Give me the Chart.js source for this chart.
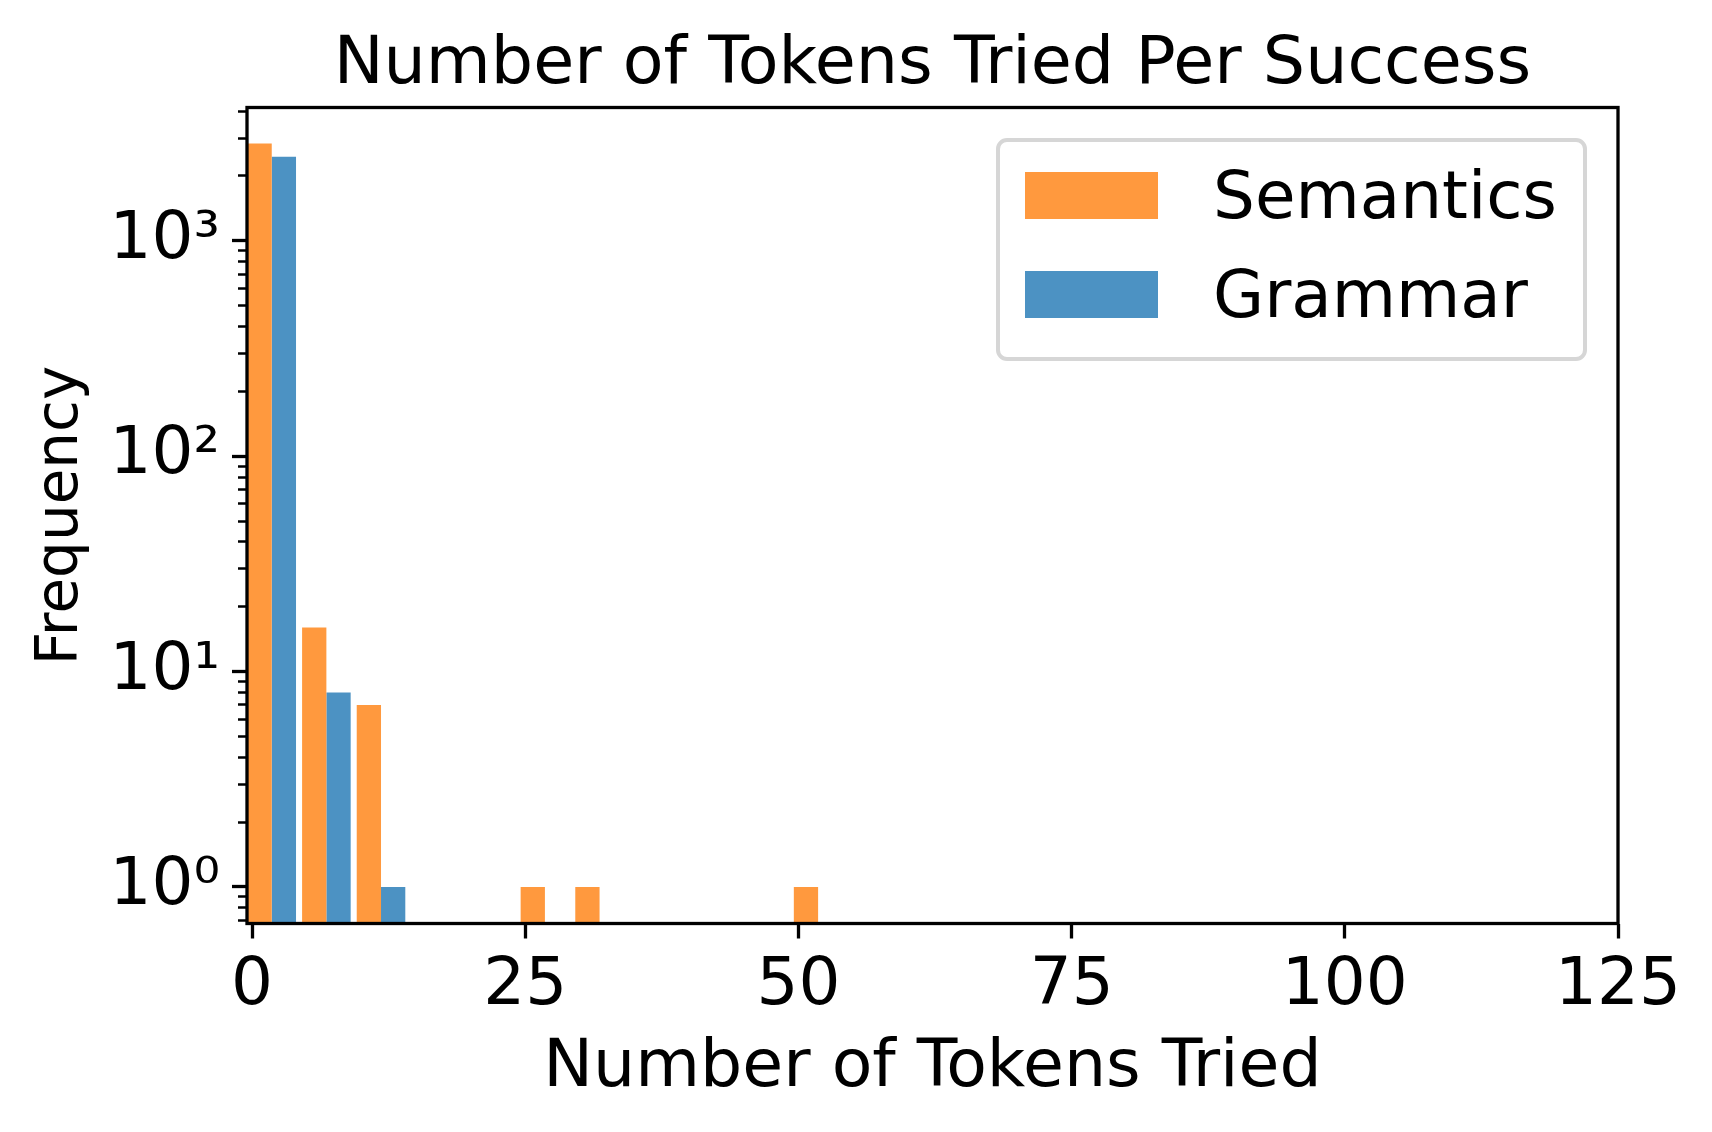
<!DOCTYPE html>
<html>
<head>
<meta charset="utf-8">
<script src="https://cdn.jsdelivr.net/npm/chart.js@4.4.1/dist/chart.umd.min.js"></script>
<style>
body{margin:0;background:#fff;}
#wrap{position:relative;width:1712px;height:1132px;}
#legend{position:absolute;left:996px;top:138px;width:583px;height:215px;border:4px solid #d6d6d6;border-radius:11px;background:rgba(255,255,255,0.8);font-family:"DejaVu Sans";font-size:66px;color:#000;}
#legend .item{position:absolute;left:25px;height:47px;line-height:47px;white-space:nowrap;}
#legend .sw{position:absolute;left:0;top:0;width:133px;height:47px;}
#legend .txt{position:absolute;left:188px;top:0;}
</style>
</head>
<body>
<div id="wrap">
<canvas id="histChart" width="1712" height="1132"></canvas>
<div id="legend"></div>
</div>
<script>
const binCenters=[1.8,6.8,11.8,16.8,21.8,26.8,31.8,36.8,41.8,46.8,51.8];
const semantics=[2830,16,7,null,null,1,1,null,null,null,1];
const grammar=[2460,8,1,null,null,null,null,null,null,null,null];
const xTicks=[0,25,50,75,100,125];
const yMajorTicks=[1,10,100,1000];
const seriesNames=["Semantics","Grammar"];
const seriesColors=["#ff993e","#4c92c3"];

const yMin=0.676;
const yMax=4160;

const sup={"0":"\u2070","1":"\u00b9","2":"\u00b2","3":"\u00b3","-":"\u207b"};

Chart.defaults.font.family="DejaVu Sans";
Chart.defaults.color="#000";

function minorTicks(){
let out=[];
for(let e=-1;e<=3;e++){
for(let m=2;m<=9;m++){
let v=m*Math.pow(10,e);
if(v>=yMin&&v<=yMax) out.push({value:v});
}
}
return out;
}

// frame round the plot + title centred over the plot area
const framePlugin={
id:"frame",
afterLayout(chart){
const t=chart.titleBlock;
if(t){t.left=chart.chartArea.left;t.right=chart.chartArea.right;t.width=t.right-t.left;}
},
afterDraw(chart){
const a=chart.chartArea;
const c=chart.ctx;
c.save();
c.strokeStyle="#000";
c.lineWidth=3.3;
c.strokeRect(a.left,a.top,a.right-a.left,a.bottom-a.top);
c.restore();
}
};

const ctx=document.getElementById("histChart");

const chart=new Chart(ctx,{
type:"bar",
data:{
labels:binCenters,
datasets:[
{label:seriesNames[0],data:semantics,backgroundColor:seriesColors[0],borderWidth:0,yAxisID:"y"},
{label:seriesNames[1],data:grammar,backgroundColor:seriesColors[1],borderWidth:0,yAxisID:"y"}
]
},
options:{
responsive:false,
animation:false,
categoryPercentage:0.889,
barPercentage:1.0,
layout:{padding:{left:0,right:94,top:0,bottom:0}},
plugins:{
legend:{display:false},
tooltip:{enabled:false},
title:{
display:true,
text:"Number of Tokens Tried Per Success",
font:{size:66.7,weight:"normal",lineHeight:1},
color:"#000",
padding:{top:32,bottom:8.8}
}
},
scales:{
x:{
type:"linear",
offset:false,
min:-0.464,
max:125,
afterBuildTicks(s){s.ticks=xTicks.map(v=>({value:v}));},
afterFit(s){s.height=208.5;},
border:{display:false},
grid:{offset:false,drawOnChartArea:false,drawTicks:true,tickLength:15,tickWidth:3.3,tickColor:"#000"},
ticks:{font:{size:66},padding:9,maxRotation:0,autoSkip:false},
title:{display:true,text:"Number of Tokens Tried",font:{size:66.5,lineHeight:1.2},padding:{bottom:23}}
},
y:{
type:"logarithmic",
position:"left",
weight:1,
min:yMin,
max:yMax,
afterBuildTicks(s){s.ticks=yMajorTicks.map(v=>({value:v}));},
afterFit(s){s.width=247;},
border:{display:false},
grid:{drawOnChartArea:false,drawTicks:true,tickLength:15,tickWidth:3.3,tickColor:"#000"},
ticks:{
font:{size:66},
padding:12,
autoSkip:false,
callback(v){
const e=Math.round(Math.log10(v));
return "10"+String(e).split("").map(ch=>sup[ch]).join("");
}
},
title:{display:true,text:"Frequency",font:{size:58,lineHeight:1.2},padding:{top:27}}
},
yMinor:{
type:"logarithmic",
position:"left",
weight:0,
min:yMin,
max:yMax,
afterBuildTicks(s){s.ticks=minorTicks();},
afterFit(s){s.width=0;},
border:{display:false},
grid:{drawOnChartArea:false,drawTicks:true,tickLength:9,tickWidth:2.5,tickColor:"#000"},
ticks:{display:false}
}
}
},
plugins:[framePlugin]
});

// legend built from the datasets
const legend=document.getElementById("legend");
chart.data.datasets.forEach((ds,i)=>{
const item=document.createElement("div");
item.className="item";
item.style.top=(30+i*99.4)+"px";
const sw=document.createElement("div");
sw.className="sw";
sw.style.background=ds.backgroundColor;
const txt=document.createElement("div");
txt.className="txt";
txt.textContent=ds.label;
item.appendChild(sw);
item.appendChild(txt);
legend.appendChild(item);
});
</script>
</body>
</html>
